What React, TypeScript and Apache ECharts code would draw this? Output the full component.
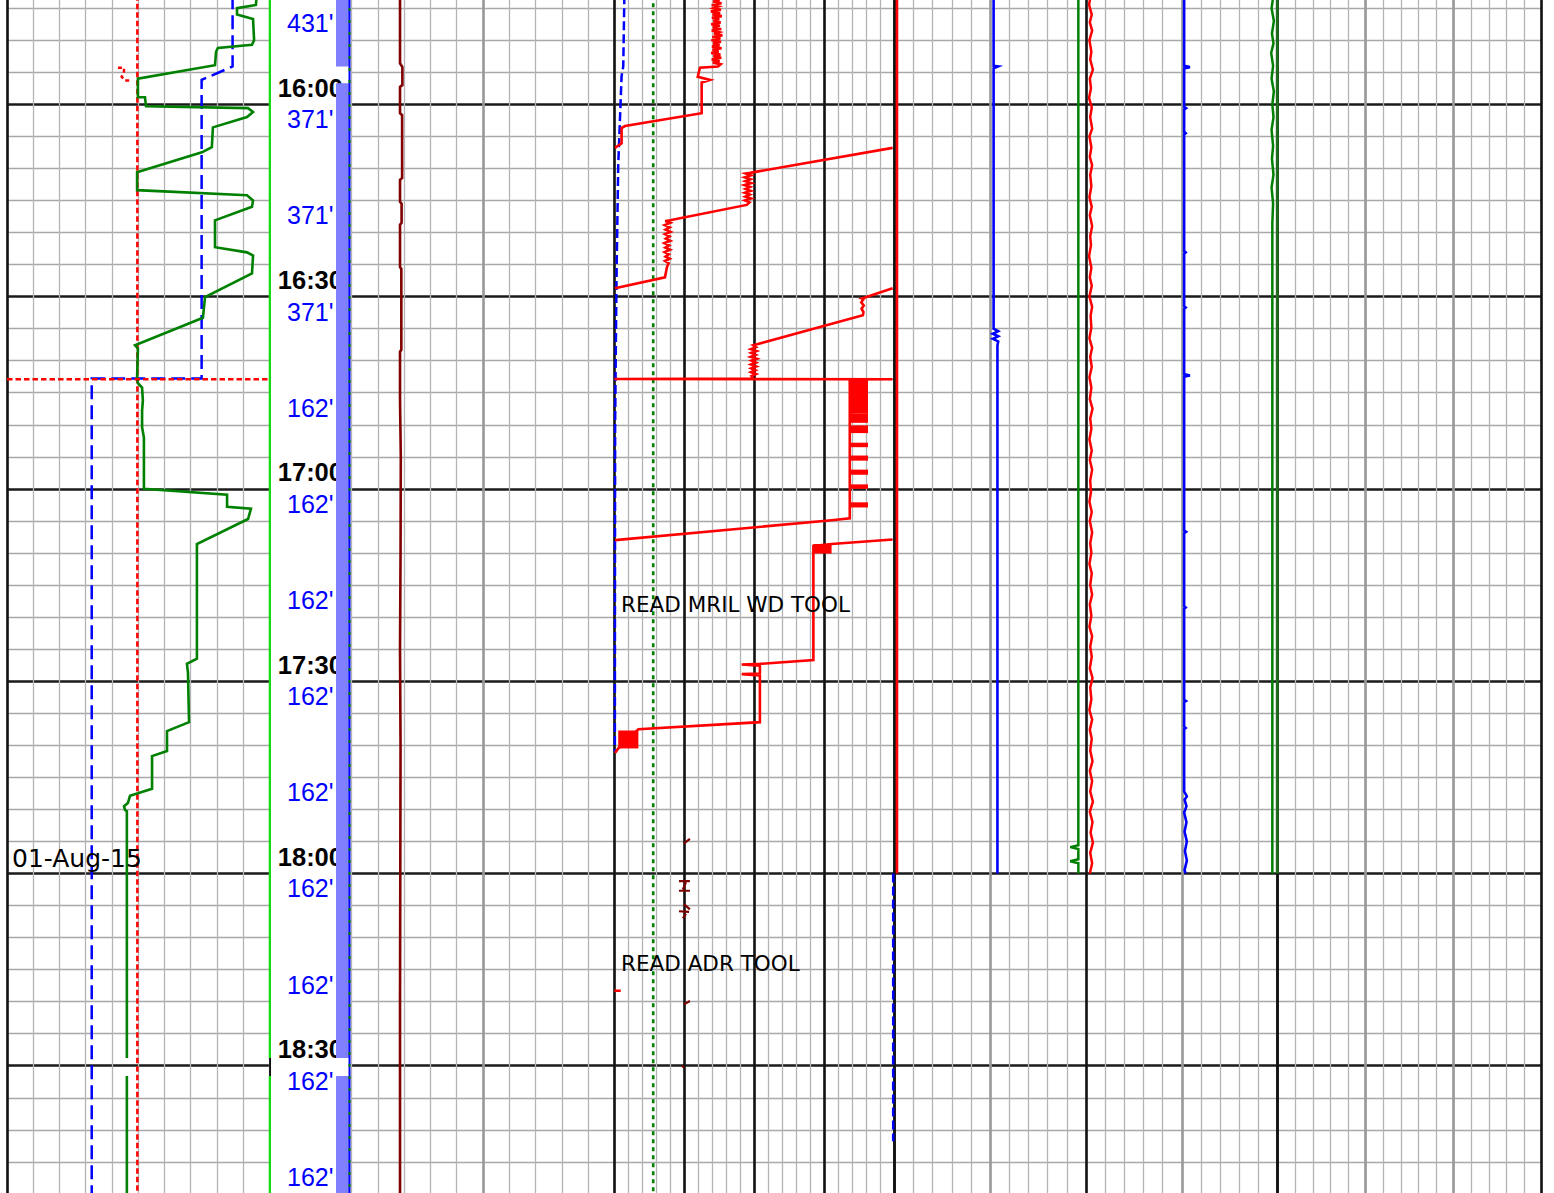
import React, { useEffect, useRef } from "react";
import * as echarts from "echarts";

// Times are minutes after midnight (960 = 16:00); track values are 0-100 of each track's scale.
type Pt = [number, number] | null;

const T_MIN = 930;
const T_MAX = 1140;

const timeTicks = [960, 990, 1020, 1050, 1080, 1110];
const timeTickLabels = ["16:00", "16:30", "17:00", "17:30", "18:00", "18:30"];
const depthTicks = [945, 960, 975, 990, 1005, 1020, 1035, 1050, 1065, 1080, 1095, 1110, 1125];
const depthTickLabels = ["431'", "371'", "371'", "371'", "162'", "162'", "162'", "162'", "162'", "162'", "162'", "162'", "162'"];

// bit-on-bottom flag in the depth track: [start, end]
const depthBarSpans: number[][] = [[930, 954.1], [956.7, 1108.8], [1111.6, 1140]];

// ---- Track 1 ----
const t1Green: Pt[] = [
  [943, 95.2], [944.5, 94.9], [945.0, 87.7], [946.0, 87.7], [946.7, 93.8], [950.0, 94.2], [950.7, 93.4],
  [951.2, 80.4], [951.8, 79.7], [953.9, 79.3], [956.0, 49.9], [958.9, 49.9], [958.9, 52.6], [960.3, 53.0],
  [960.6, 91.9], [961.2, 93.8], [962.0, 91.5], [963.6, 78.5], [966.7, 78.1], [967.5, 74.3], [970.6, 49.6],
  [973.4, 49.6], [974.2, 91.5], [975.0, 93.8], [976.0, 93.4], [978.1, 79.3], [982.3, 79.3], [983.1, 91.5],
  [983.6, 93.8], [986.4, 93.4], [990.1, 75.5], [993.3, 74.7], [997.6, 48.8], [998.1, 49.9], [1002.6, 49.6],
  [1003.5, 49.9], [1004.2, 51.5], [1006.2, 51.8], [1007.8, 51.5], [1010.4, 51.5], [1012.0, 52.2],
  [1020.0, 52.2], [1020.9, 83.9], [1022.8, 83.9], [1023.1, 93.0], [1024.7, 91.9], [1028.6, 72.4],
  [1046.5, 72.4], [1047.3, 68.6], [1048.7, 69.0], [1056.4, 69.4], [1057.8, 61.0], [1060.9, 61.0],
  [1061.7, 55.3], [1066.8, 55.3], [1067.9, 46.9], [1069.0, 46.1], [1069.5, 44.6], [1070.1, 45.0],
  [1070.3, 45.7], [1108.8, 45.7], null, [1111.6, 45.7], [1140, 45.7],
];
const t1BlueDash: Pt[] = [[943, 86.0], [954.1, 86.0], [956.2, 74.2], [1002.8, 74.2], [1002.8, 32.3], [1140, 32.3]];
const t1RedDot: Pt[] = [[943, 49.7], [1140, 49.7]];
const t1RedDotHook: Pt[] = [[954.3, 42.3], [954.3, 44.6], [955.1, 44.6], [955.7, 43.7], [956.3, 45.0], [956.3, 47.6]];
const t1RedDotMarker: Pt[] = [[1002.9, 0], [1002.9, 100]];
const t1Edge: Pt[] = [[943, 100.3], [1108.8, 100.3], null, [1111.6, 100.3], [1140, 100.3]];
const t1EdgeGap: Pt[] = [[1108.8, 100.3], [1111.6, 100.3]];

// ---- Depth track ----
const depthTrace: Pt[] = [[930, 99.4], [1140, 99.4]];

// ---- Track 2 ----
const t2DarkRed: Pt[] = [
  [943, 18.4], [953.6, 18.4], [954.2, 19.3], [957.0, 19.3], [957.3, 18.4], [961.4, 18.4], [961.7, 19.2],
  [971.5, 19.2], [971.8, 18.4], [975.2, 18.4], [975.5, 19.0], [978.5, 19.0], [978.8, 18.4], [985.4, 18.4],
  [985.7, 18.9], [998.3, 18.9], [998.6, 18.4], [1006.2, 18.4], [1015, 18.7], [1030, 18.6], [1045, 18.4],
  [1060, 18.6], [1080, 18.5], [1100, 18.4], [1140, 18.4],
];

// ---- Track 3 ----
const t3BlueDash: Pt[] = [[943, 3.6], [954.1, 3.2], [955.6, 2.6], [969.6, 1.4], [985.2, 0.85], [995.6, 0.6], [1010, 0.3], [1030, 0.25], [1061, 0.2]];
const t3BlueDashLow: Pt[] = [[1080, 99.6], [1121.8, 99.6]];
const t3GreenDot: Pt[] = [[943, 13.9], [1140, 13.9]];
// wrapped trace (jumps back to the left edge when it runs off the right)
const t3RedWrap: Pt[] = [
  [943, 35.0], [943.25, 38.0], [943.5, 34.6], [943.75, 37.6], [944, 35.3], [944.25, 38.3], [944.5, 34.8],
  [944.75, 37.2], [945, 35.5], [945.25, 38.1], [945.5, 34.5], [945.75, 37.8], [946, 35.1], [946.25, 38.4],
  [946.5, 34.9], [946.75, 37.5], [947, 35.4], [947.25, 38.0], [947.5, 34.6], [947.75, 37.7], [948, 35.2],
  [948.25, 38.2], [948.5, 34.8], [948.75, 37.4], [949, 35.6], [949.25, 38.6], [949.5, 35.0], [949.75, 37.9],
  [950, 34.7], [950.25, 38.1], [950.5, 35.3], [950.75, 37.6], [951, 34.9], [951.25, 38.3], [951.5, 35.1],
  [951.75, 37.3], [952, 34.6], [952.25, 37.9], [952.5, 35.4], [952.75, 38.2], [953, 34.8], [953.25, 37.6],
  [953.5, 35.2], [953.75, 38.0], [954.1, 37.0],
  [954.3, 30.6], [955.7, 29.8], [956.2, 34.2], [956.6, 31.2], [957.3, 31.2], [961.4, 31.2], [963.4, 3.8],
  [963.7, 2.6], [966.1, 2.6], [966.8, 0.25], null,
  [966.8, 99.4], [970.7, 48.5],
  [970.8, 47.0], [971.1, 48.8], [971.4, 46.6], [971.7, 48.6], [972.0, 46.8], [972.3, 48.9], [972.6, 46.5],
  [972.9, 48.5], [973.2, 46.9], [973.5, 48.7], [973.8, 46.6], [974.1, 48.4], [974.4, 46.8], [974.7, 48.8],
  [975.0, 46.7], [975.3, 48.3], [975.7, 47.3], [978.1, 19.9],
  [978.2, 18.2], [978.5, 20.0], [978.85, 18.0], [979.2, 19.8], [979.55, 18.3], [979.9, 20.1], [980.25, 18.1],
  [980.6, 19.7], [980.95, 18.4], [981.3, 20.0], [981.65, 17.9], [982.0, 19.6], [982.35, 18.2], [982.7, 19.9],
  [983.05, 18.0], [983.4, 19.5], [983.75, 18.3], [984.1, 19.8], [984.45, 18.1], [984.8, 19.4], [985.4, 18.8],
  [987.0, 18.1], [988.7, 0.25], null,
  [988.7, 99.4], [990.3, 88.4], [990.4, 89.0], [990.9, 88.2], [991.4, 89.1], [991.9, 88.3], [992.4, 89.0],
  [992.9, 88.8], [997.6, 49.6],
  [997.9, 50.6], [998.2, 48.8], [998.5, 50.8], [998.8, 48.9], [999.1, 50.5], [999.4, 48.7], [999.7, 50.9],
  [1000, 49.0], [1000.3, 50.6], [1000.6, 48.8], [1000.9, 50.7], [1001.2, 48.9], [1001.5, 50.4], [1001.8, 48.8],
  [1002.1, 50.6], [1002.4, 49.0], [1002.8, 49.5],
  [1002.85, 0], [1002.9, 99.4], [1002.95, 84.1], [1024.6, 84.1],
  [1024.9, 77.6], [1028.0, 0.25], null,
  [1027.9, 99.4], [1028.6, 77.6], [1028.9, 71.1], [1046.7, 71.1], [1047.3, 52.0], [1047.4, 45.5],
  [1047.6, 52.0], [1048.8, 52.0], [1048.9, 45.5], [1049.1, 52.0], [1056.4, 52.0], [1057.5, 8.6],
  [1060.5, 1.4], [1061.2, 0.25], null,
  [1098.3, 0], [1098.3, 2.3],
];
// solid ink blocks on the wrapped trace: [start, end, left, right]
const t3RedBlocks: number[][] = [
  [1002.85, 1008.2, 84.1, 90.6], [1008.2, 1009.7, 84.1, 90.6], [1010.1, 1011.3, 84.1, 90.6],
  [1012.8, 1013.5, 84.1, 90.6], [1014.8, 1015.6, 84.1, 90.6], [1017.0, 1017.8, 84.1, 90.6],
  [1019.3, 1020.0, 84.1, 90.6], [1022.1, 1022.9, 84.1, 90.6], [1028.6, 1030.1, 71.1, 77.6],
  [1057.7, 1060.5, 1.4, 8.6],
];
const t3DarkRedMarks: Pt[] = [
  [1075.3, 24.9], [1074.6, 27.0], null,
  [1081.2, 23.1], [1081.2, 27.0], null, [1081.4, 25.6], [1082.5, 24.5], null, [1082.7, 23.1], [1082.7, 27.0], null,
  [1084.8, 24.9], [1085.6, 27.0], null, [1085.9, 23.1], [1086.0, 26.7], null, [1086.3, 25.6], [1087.0, 24.5], null,
  [1100.4, 24.9], [1099.9, 27.0], null,
  [1110.0, 24.2], [1110.3, 24.9],
];
const t3Notes = [
  { t: 1038.0, v: 2.4, text: "READ MRIL WD TOOL" },
  { t: 1094.1, v: 2.4, text: "READ ADR TOOL" },
];
const t1Notes = [{ t: 1077.6, v: 1.9, text: "01-Aug-15" }];

// ---- Track 4 ----
const t4Red: Pt[] = [[943, 0.7], [1080, 0.7]];
const t4BlueLeft: Pt[] = [
  [943, 25.9], [954.0, 25.9], [954.1, 27.1], [954.4, 25.9], [995.0, 25.9], [995.4, 27.1], [995.8, 25.7],
  [996.2, 27.1], [996.6, 25.7], [997.0, 27.1], [997.6, 26.9], [1080, 26.9],
];
const t4Green: Pt[] = [
  [943, 48.0], [1075.6, 48.0], [1075.9, 45.9], [1076.2, 48.0], [1077.8, 48.0], [1078.1, 45.9], [1078.4, 48.0], [1080, 48.0],
];
const t4RedWiggle: Pt[] = [
  [943, 51.2], [944.5, 50.8], [946, 51.5], [947.2, 51.0], [948.5, 51.6], [950, 50.9], [951.8, 51.4], [953, 51.1],
  [954.6, 51.8], [956, 51.0], [957.5, 51.3], [959, 50.8], [960.5, 51.5], [962, 51.1], [963.8, 51.6], [965, 50.9],
  [966.7, 51.4], [968.2, 51.0], [969.5, 51.6], [971, 51.1], [972.8, 51.4], [974.5, 50.9], [976, 51.5], [977.3, 51.0],
  [979, 51.6], [980.6, 51.1], [982, 51.3], [983.7, 50.8], [985.5, 51.4], [987, 51.0], [988.3, 51.5], [990, 50.9],
  [991.6, 51.6], [993, 51.2], [994.8, 51.4], [996.5, 50.9], [998, 51.6], [999.4, 51.1], [1001, 51.5], [1002.6, 50.9],
  [1004.2, 51.4], [1006, 51.0], [1007.5, 51.7], [1009, 51.1], [1010.6, 51.4], [1012.3, 50.9], [1014, 51.5],
  [1015.5, 51.0], [1017, 51.6], [1018.7, 51.1], [1020.5, 51.3], [1022, 50.9], [1023.6, 51.5], [1025, 51.0],
  [1026.8, 51.6], [1028.5, 51.1], [1030, 51.4], [1031.7, 50.9], [1033.2, 51.5], [1035, 51.1], [1036.5, 51.6],
  [1038, 51.0], [1039.8, 51.4], [1041.5, 50.9], [1043, 51.6], [1044.6, 51.1], [1046.2, 51.5], [1048, 51.0],
  [1049.5, 51.7], [1051, 51.1], [1052.8, 51.4], [1054.5, 50.9], [1056, 51.6], [1057.6, 51.0], [1059, 51.5],
  [1060.8, 51.1], [1062.5, 51.7], [1064, 51.0], [1065.6, 51.6], [1067.2, 51.1], [1068.8, 51.8], [1070.4, 51.0],
  [1072, 51.7], [1073.6, 51.2], [1075.2, 51.8], [1076.8, 51.1], [1078.4, 51.6], [1080, 51.0],
];
const t4BlueRight: Pt[] = [
  [943, 75.6], [954.0, 75.6], [954.2, 77.1], [954.4, 75.6], [960.4, 75.6], [960.6, 76.1], [960.8, 75.6],
  [964.3, 75.6], [964.5, 76.0], [964.7, 75.6], [982.9, 75.6], [983.1, 76.0], [983.3, 75.6], [991.5, 75.6],
  [991.7, 76.0], [991.9, 75.6], [1002.1, 75.6], [1002.3, 77.1], [1002.5, 75.6], [1026.5, 75.6], [1026.7, 76.1],
  [1026.9, 75.6], [1038.3, 75.6], [1038.5, 76.0], [1038.7, 75.6], [1052.9, 75.6], [1053.1, 76.1], [1053.3, 75.6],
  [1057.1, 75.6], [1057.3, 76.0], [1057.5, 75.6], [1067.2, 75.6], [1068, 76.3], [1068.5, 75.7], [1069.5, 76.2],
  [1070.5, 75.6], [1072, 76.2], [1073.5, 75.7], [1075, 76.3], [1076.5, 75.8], [1078, 76.3], [1079.5, 75.7], [1080, 76.0],
];
const t4GreenRight: Pt[] = [
  [943, 98.9], [945, 98.4], [947, 99.0], [949, 98.5], [950.5, 98.9], [952, 98.3], [954, 98.8], [956, 98.4],
  [958, 99.0], [960, 98.6], [962, 98.9], [964, 98.4], [966.5, 98.8], [968.5, 98.5], [971, 98.9], [973, 98.4],
  [975.5, 98.8], [978.5, 98.6], [1080, 98.6],
];
const t4DarkGreen: Pt[] = [[943, 99.9], [1080, 99.9]];

// ---- layout ----
const BLACK = "#111111";
const GRAY_THICK = "#999999";
const GRAY_MINOR = "#b4b4b4";
const NONE = "rgba(0,0,0,0)";
const PX_PER_MIN = 6.41;
const Y_16H = 104.3;
// the log sheet starts at T_MIN, above the top of the page
const SHEET_TOP = Y_16H - (960 - T_MIN) * PX_PER_MIN;
const SHEET_HEIGHT = (T_MAX - T_MIN) * PX_PER_MIN;

const tracks = [
  { left: 7, width: 262.3, max: 100, minor: 10, major: 100, majorColors: [BLACK, NONE], grid: true },
  { left: 270, width: 80, max: 100, minor: 0, major: 0, majorColors: [NONE], grid: false },
  { left: 351.7, width: 262.6, max: 100, minor: 10, major: 50, majorColors: [NONE, GRAY_THICK, NONE], grid: true },
  { left: 614.3, width: 280, max: 100, minor: 5, major: 25, majorColors: [BLACK], grid: true },
  { left: 894.3, width: 383.4, max: 100, minor: 5, major: 25, majorColors: [BLACK, GRAY_THICK], grid: true },
  { left: 1277.7, width: 264, max: 150, minor: 10, major: 50, majorColors: [BLACK, GRAY_THICK, GRAY_THICK, BLACK], grid: true },
];

const toXY = (pts: Pt[]) => pts.map((p) => (p ? [p[1], p[0]] : ["-", "-"]));

function curve(track: number, pts: Pt[], color: string, width: number, dash?: number[], z = 3) {
  return {
    type: "line",
    xAxisIndex: track * 2,
    yAxisIndex: track,
    data: toXY(pts),
    symbol: "none",
    showSymbol: false,
    silent: true,
    connectNulls: false,
    z,
    lineStyle: { color, width, type: dash ?? "solid", cap: "butt", join: "miter" },
  };
}

function blocks(track: number, spans: number[][], color: string, z = 3) {
  return {
    type: "custom",
    xAxisIndex: track * 2,
    yAxisIndex: track,
    data: spans,
    encode: { x: [2, 3], y: [0, 1] },
    clip: true,
    silent: true,
    z,
    renderItem: (_p: any, api: any) => {
      const a = api.coord([api.value(2), api.value(0)]);
      const b = api.coord([api.value(3), api.value(1)]);
      return {
        type: "rect",
        shape: { x: Math.min(a[0], b[0]), y: Math.min(a[1], b[1]), width: Math.abs(b[0] - a[0]), height: Math.abs(b[1] - a[1]) },
        style: { fill: color },
      };
    },
  };
}

function notes(track: number, items: { t: number; v: number; text: string }[], fontSize: number) {
  return {
    type: "scatter",
    xAxisIndex: track * 2,
    yAxisIndex: track,
    symbolSize: 0,
    silent: true,
    z: 6,
    itemStyle: { opacity: 1 },
    data: items.map((n) => ({ value: [n.v, n.t], name: n.text })),
    label: {
      show: true,
      position: "right",
      distance: 0,
      formatter: "{b}",
      color: "#000000",
      opacity: 1,
      textBorderWidth: 0,
      fontFamily: "DejaVu Sans, sans-serif",
      fontSize,
    },
  };
}

function buildOption() {
  const grid = tracks.map((tr) => ({ left: tr.left, width: tr.width, top: 0, height: SHEET_HEIGHT, containLabel: false }));

  const xAxis: any[] = [];
  tracks.forEach((tr, i) => {
    const base = {
      gridIndex: i, type: "value", min: 0, max: tr.max,
      axisLine: { show: false }, axisTick: { show: false }, axisLabel: { show: false },
    };
    xAxis.push({
      ...base, position: "bottom", interval: tr.minor || tr.max,
      splitLine: { show: tr.grid, lineStyle: { color: GRAY_MINOR, width: 1.3 } },
    });
    xAxis.push({
      ...base, position: "top", interval: tr.major || tr.max,
      splitLine: { show: tr.grid, lineStyle: { color: tr.majorColors, width: 2.6 } },
    });
  });

  const yAxis: any[] = tracks.map((tr, i) => {
    const y: any = {
      gridIndex: i, type: "value", min: T_MIN, max: T_MAX, inverse: true, interval: 30,
      axisLine: { show: false }, axisTick: { show: false }, axisLabel: { show: false },
      minorTick: { show: false, splitNumber: 6 },
      splitLine: { show: tr.grid, lineStyle: { color: "#1a1a1a", width: 2.5 } },
      minorSplitLine: { show: tr.grid, lineStyle: { color: "#a8a8a8", width: 1.4 } },
    };
    if (i === 1) {
      y.position = "right";
      y.axisLabel = {
        show: true, inside: true, margin: 7, align: "right", verticalAlign: "bottom",
        lineHeight: 33,
        fontFamily: "Liberation Sans, Arial, sans-serif", fontWeight: "bold", fontSize: 25.5, color: "#000",
        formatter: (v: number) => {
          const k = timeTicks.indexOf(v);
          return k >= 0 ? timeTickLabels[k] : "";
        },
      };
    }
    return y;
  });
  yAxis.push({
    gridIndex: 1, type: "value", min: T_MIN, max: T_MAX, inverse: true, interval: 15, position: "right",
    axisLine: { show: false }, axisTick: { show: false }, splitLine: { show: false },
    axisLabel: {
      show: true, inside: true, margin: 16.5, align: "right", verticalAlign: "top",
      lineHeight: 30,
      fontFamily: "Liberation Sans, Arial, sans-serif", fontSize: 25, color: "#0000ff",
      formatter: (v: number) => {
        const k = depthTicks.indexOf(v);
        return k >= 0 ? depthTickLabels[k] : "";
      },
    },
  });

  const series: any[] = [
    // track 1
    curve(0, t1RedDot, "#ff0000", 2.5, [5.5, 3]),
    curve(0, t1RedDotHook, "#ff0000", 2.5, [4, 3]),
    curve(0, t1RedDotMarker, "#ff0000", 2.5, [5.5, 3], 4),
    curve(0, t1BlueDash, "#0000ff", 2.5, [14, 6]),
    curve(0, t1Green, "#008000", 2.6),
    curve(0, t1Edge, "#11dd11", 2.6),
    curve(0, t1EdgeGap, "#111111", 2),
    // depth track
    blocks(1, depthBarSpans.map((s) => [s[0], s[1], 82.5, 98.75]), "#8080ff", 4),
    curve(1, depthTrace, "#0000ff", 2, undefined, 5),
    curve(1, depthTrace, "#008000", 2, [3, 9], 5),
    // track 2
    curve(2, t2DarkRed, "#800000", 2.6),
    // track 3
    curve(3, t3GreenDot, "#008000", 2.6, [4, 4]),
    curve(3, t3BlueDash, "#0000ff", 2.5, [9, 4]),
    curve(3, t3BlueDashLow, "#0000ff", 2.5, [9, 4]),
    curve(3, t3RedWrap, "#ff0000", 2.6),
    blocks(3, t3RedBlocks, "#ff0000"),
    curve(3, t3DarkRedMarks, "#800000", 2.2),
    notes(3, t3Notes, 21.5),
    notes(0, t1Notes, 25),
    // track 4
    curve(4, t4Red, "#ff0000", 2.6),
    curve(4, t4BlueLeft, "#0000ff", 2.6),
    curve(4, t4Green, "#008000", 2.5),
    curve(4, t4RedWiggle, "#ff0000", 2.5),
    curve(4, t4BlueRight, "#0000ff", 2.6),
    curve(4, t4GreenRight, "#008000", 2.5),
    curve(4, t4DarkGreen, "#1e6e1e", 3),
  ];

  return {
    animation: false,
    backgroundColor: "#ffffff",
    grid,
    xAxis,
    yAxis,
    series,
  };
}

export default function App() {
  const ref = useRef<HTMLDivElement>(null);
  useEffect(() => {
    if (!ref.current) return;
    const chart = echarts.init(ref.current, undefined, { renderer: "svg" });
    chart.setOption(buildOption() as any);
    return () => chart.dispose();
  }, []);
  return (
    <div style={{ position: "fixed", left: 0, top: 0, width: 1554, height: 1193, overflow: "hidden", background: "#fff" }}>
      <div
        ref={ref}
        style={{ position: "absolute", left: 0, top: SHEET_TOP, width: 1554, height: SHEET_HEIGHT }}
      />
    </div>
  );
}
